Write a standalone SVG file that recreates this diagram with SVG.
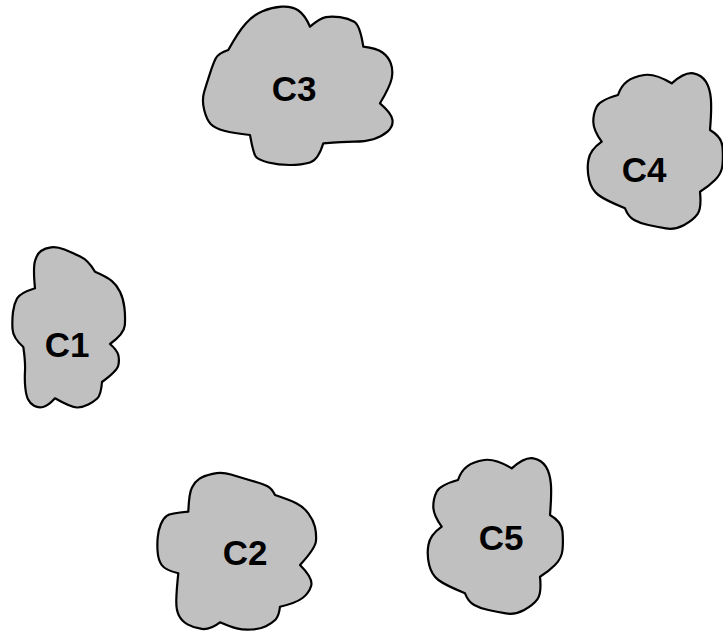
<svg xmlns="http://www.w3.org/2000/svg" xmlns:xlink="http://www.w3.org/1999/xlink" width="723" height="635" viewBox="0 0 723 635">
<style>
.blob{fill:#c0c0c0;stroke:#000;stroke-width:2.2;stroke-linejoin:round}
.lbl{font-family:"Liberation Sans",Arial,sans-serif;font-weight:bold;font-size:35px;fill:#000;text-anchor:middle}
</style>
<defs>
<path id="shapeB" d="M618,95 Q621,86 627.2,81.4 Q633.3,76.7 644.2,75 Q655,73.3 671.7,83.3 Q685,71.7 693.4,73.4 Q701.7,75 705.9,81.7 Q710,88.3 710.9,99.2 Q711.7,110 710,130 Q721.7,136.7 722.5,146.7 Q723.3,156.7 722.5,165 Q721.7,173.3 715,180 Q708.3,186.7 700,191.7 Q701.7,208.3 697.5,214.2 Q693.3,220 684.2,225 Q675,230 665.9,228.4 Q656.7,226.7 648.4,225 Q640,223.3 634.2,220 Q628.3,216.7 625,208.3 Q605,200 598.4,195 Q591.7,190 589.2,180 Q586.7,170 588.4,160 Q590,150 601.7,141.7 Q593.3,130 593.3,121.7 Q593.3,113.3 596.7,106.7 Q600,100 618,95 Z"/>
</defs>
<g id="connectors"></g>
<g id="C3">
<path class="blob" d="M228.3,50 Q238.3,31.7 245.8,23.4 Q253.3,15 262.5,11.2 Q271.7,7.3 281.7,6.7 Q291.7,6 298.4,10.5 Q305,15 310,26.7 Q320,18.3 325.9,17.2 Q331.7,16 340,17.2 Q348.3,18.3 354.2,21.7 Q360,25 363.3,46.7 Q376.7,48.3 382.5,52.5 Q388.3,56.7 390.8,63.4 Q393.3,70 391.7,78.4 Q390,86.7 380,103.3 Q391.7,113.3 392.5,120 Q393.3,126.7 387.5,131.7 Q381.7,136.7 373.4,139.2 Q365,141.7 354.2,141.7 Q343.3,141.7 323.3,143.3 Q318.3,160 310,162.5 Q301.7,165 290,165 Q278.3,165 268.3,162.5 Q258.3,160 255.8,156.7 Q253.3,153.3 250,135 Q233.3,133.3 224.2,130.8 Q215,128.3 210.9,124.2 Q206.7,120 204.2,110 Q201.7,100 204.2,91.7 Q206.7,83.3 210,73.3 Q213.3,63.3 215.8,58.3 Q218.3,53.3 228.3,50 Z"/>
<text class="lbl" x="294" y="101">C3</text>
</g>
<g id="C4">
<use xlink:href="#shapeB" class="blob"/>
<text class="lbl" x="644" y="182">C4</text>
</g>
<g id="C1">
<path class="blob" d="M35,288.3 Q33,268 35,261 Q37,254 41,251 Q45,248 51,247.3 Q57,246.5 64.5,249.6 Q72,252.7 80.2,256.4 Q88.3,260 95,271.7 Q106.7,276.7 111.7,280.9 Q116.7,285 120,291.7 Q123.3,298.3 124.4,307.5 Q125.5,316.7 124.8,325.4 Q124,334 110,344 Q117,350 118.3,355 Q119.5,360 118.3,365.5 Q117,371 102,382 Q101,395 97.2,398.5 Q93.3,402 88.3,404.5 Q83.3,407 77.7,407.5 Q72,408 55,398.3 Q48,406 43,407 Q38,408 34,405.7 Q30,403.3 28,399.2 Q26,395 25.3,387.5 Q24.5,380 25,371 Q25.5,362 23.3,347 Q13,338 12.5,329 Q12,320 13,312 Q14,304 17,298.5 Q20,293 35,288.3 Z"/>
<text class="lbl" x="67" y="357">C1</text>
</g>
<g id="C2">
<path class="blob" d="M188.3,511.7 Q189,493 192,487.4 Q195,481.7 199.2,478.9 Q203.3,476 212.5,473.9 Q221.7,471.7 230.9,474.5 Q240,477.3 251.7,480.7 Q263.3,484 267.5,486.2 Q271.7,488.3 275,495 Q290,500 296.7,503.4 Q303.3,506.7 308.3,513.4 Q313.3,520 314.9,526.7 Q316.5,533.3 316,540.8 Q315.5,548.3 300,565 Q313.3,578.3 311.2,585.7 Q309,593 302.5,598 Q296,603 280,606.7 Q279,616 275.4,619.7 Q271.7,623.3 265.9,626.2 Q260,629 251.7,629.5 Q243.3,630 236.7,628.4 Q230,626.7 220,622.3 Q210,630 201.7,628.9 Q193.3,627.7 187.5,624.4 Q181.7,621 178.9,615.5 Q176,610 176.3,600 Q176.5,590 178.3,573.3 Q165,570 161.7,565 Q158.3,560 157.7,552.5 Q157,545 157.7,537.5 Q158.3,530 160.8,524.2 Q163.3,518.3 166.7,515.8 Q170,513.3 188.3,511.7 Z"/>
<text class="lbl" x="245" y="565">C2</text>
</g>
<g id="C5">
<use xlink:href="#shapeB" class="blob" transform="translate(-160,385)"/>
<text class="lbl" x="501" y="550">C5</text>
</g>
</svg>
